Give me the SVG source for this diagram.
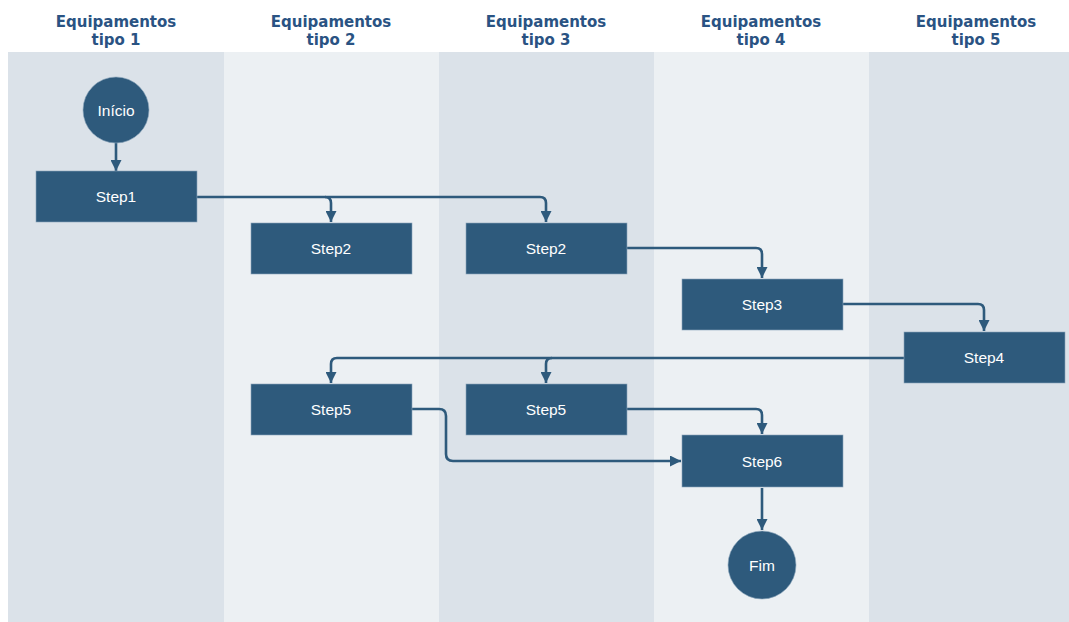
<svg xmlns="http://www.w3.org/2000/svg" width="1069" height="622" viewBox="0 0 1069 622">
  <defs>
    <marker id="arrow" viewBox="0 0 10 10" refX="10" refY="5" markerWidth="11" markerHeight="11" markerUnits="userSpaceOnUse" orient="auto">
      <path d="M0,0 L10,5 L0,10 Z" fill="#2e5a7c"/>
    </marker>
    <style>
      .lane-dark { fill: #dbe2e9; }
      .lane-light { fill: #ecf0f3; }
      .header { font-family: "DejaVu Sans", "Liberation Sans", sans-serif; font-weight: bold; font-size: 15px; fill: #2a5383; text-anchor: middle; }
      .box { fill: #2e5a7c; stroke: #8aa4bb; stroke-width: 0.6; }
      .label { font-family: "Liberation Sans", Arial, sans-serif; font-size: 15.5px; fill: #ffffff; text-anchor: middle; dominant-baseline: central; }
      .edge { fill: none; stroke: #2e5a7c; stroke-width: 2.6; marker-end: url(#arrow); }
    </style>
  </defs>

  <rect width="1069" height="622" fill="#ffffff"/>

  <!-- swimlanes -->
  <g id="lanes">
    <rect class="lane-dark" x="8" y="52" width="216" height="570"/>
    <rect class="lane-light" x="224" y="52" width="215" height="570"/>
    <rect class="lane-dark" x="439" y="52" width="215" height="570"/>
    <rect class="lane-light" x="654" y="52" width="215" height="570"/>
    <rect class="lane-dark" x="869" y="52" width="200" height="570"/>
  </g>

  <g id="headers">
    <text class="header" x="116" y="27">Equipamentos</text>
    <text class="header" x="116" y="45">tipo 1</text>
    <text class="header" x="331" y="27">Equipamentos</text>
    <text class="header" x="331" y="45">tipo 2</text>
    <text class="header" x="546" y="27">Equipamentos</text>
    <text class="header" x="546" y="45">tipo 3</text>
    <text class="header" x="761" y="27">Equipamentos</text>
    <text class="header" x="761" y="45">tipo 4</text>
    <text class="header" x="976" y="27">Equipamentos</text>
    <text class="header" x="976" y="45">tipo 5</text>
  </g>

  <!-- connectors -->
  <g id="connectors">
    <path class="edge" d="M116,143 L116,171"/>
    <path class="edge" d="M197,197 L325,197 Q331,197 331,203 L331,222"/>
    <path class="edge" d="M325,197 L540,197 Q546,197 546,203 L546,222"/>
    <path class="edge" d="M627,248 L756,248 Q762,248 762,254 L762,278"/>
    <path class="edge" d="M843,304 L978,304 Q984,304 984,310 L984,331"/>
    <path class="edge" d="M904,358 L337,358 Q331,358 331,364 L331,383"/>
    <path class="edge" d="M552,358 Q546,358 546,364 L546,383"/>
    <path class="edge" d="M412,409 L439,409 Q446,409 446,416 L446,454 Q446,461 453,461 L681,461"/>
    <path class="edge" d="M627,409 L756,409 Q762,409 762,415 L762,434"/>
    <path class="edge" d="M762,488 L762,530"/>
  </g>

  <g id="inicio">
    <circle class="box" cx="116" cy="110" r="33"/>
    <text class="label" x="116" y="110">Início</text>
  </g>
  <g id="step1">
    <rect class="box" x="36" y="171" width="161" height="51"/>
    <text class="label" x="116" y="196">Step1</text>
  </g>
  <g id="step2a">
    <rect class="box" x="251" y="223" width="161" height="51"/>
    <text class="label" x="331" y="248">Step2</text>
  </g>
  <g id="step2b">
    <rect class="box" x="466" y="223" width="161" height="51"/>
    <text class="label" x="546" y="248">Step2</text>
  </g>
  <g id="step3">
    <rect class="box" x="682" y="279" width="161" height="51"/>
    <text class="label" x="762" y="304">Step3</text>
  </g>
  <g id="step4">
    <rect class="box" x="904" y="332" width="161" height="51"/>
    <text class="label" x="984" y="357">Step4</text>
  </g>
  <g id="step5a">
    <rect class="box" x="251" y="384" width="161" height="51"/>
    <text class="label" x="331" y="409">Step5</text>
  </g>
  <g id="step5b">
    <rect class="box" x="466" y="384" width="161" height="51"/>
    <text class="label" x="546" y="409">Step5</text>
  </g>
  <g id="step6">
    <rect class="box" x="682" y="435" width="161" height="52"/>
    <text class="label" x="762" y="461">Step6</text>
  </g>
  <g id="fim">
    <circle class="box" cx="762" cy="565" r="34"/>
    <text class="label" x="762" y="565">Fim</text>
  </g>
</svg>
